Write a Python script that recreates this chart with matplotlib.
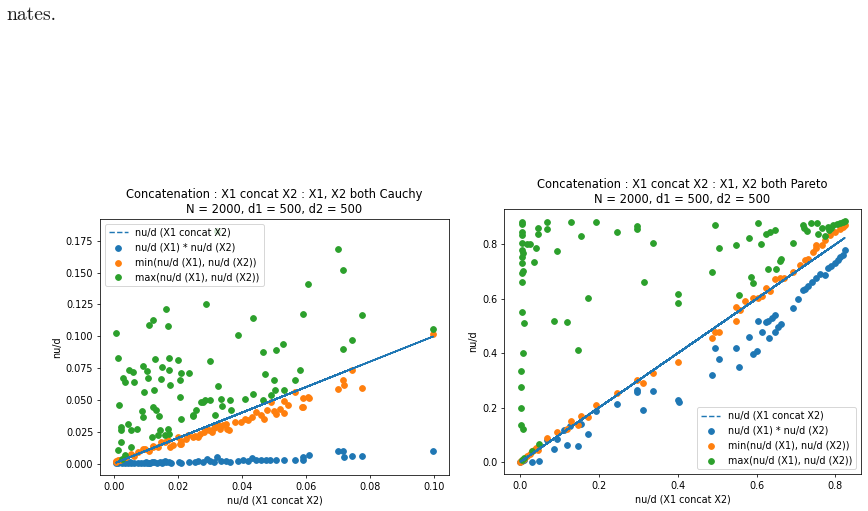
#!/usr/bin/env python3
import numpy as np
import matplotlib
matplotlib.use('Agg')
import matplotlib.pyplot as plt

# keep the back-and-forth concat line intact (no collinear merging)
plt.rcParams['path.simplify'] = False

# ---- Cauchy panel (left) ----
cauchy_max_x = [0.0007, 0.0163, 0.0123, 0.0112, 0.0170, 0.0290, 0.0434, 0.0590, 0.0776, 0.0998,
                0.0389, 0.0746, 0.0013, 0.0130, 0.0172, 0.0202, 0.0301, 0.0467, 0.0506, 0.0530,
                0.0718, 0.0091, 0.0152, 0.0049, 0.0060, 0.0105, 0.0172, 0.0212, 0.0235, 0.0207,
                0.0028, 0.0034, 0.0063, 0.0107, 0.0149, 0.0175, 0.0095, 0.0126, 0.0207, 0.0018,
                0.0326, 0.0583, 0.0472, 0.0501, 0.0565, 0.0272, 0.0284, 0.0301, 0.0336, 0.0364,
                0.0410, 0.0435, 0.0467, 0.0491, 0.0504, 0.0531, 0.0256, 0.0340, 0.0367, 0.0317,
                0.0123, 0.0133, 0.0142, 0.0089, 0.0091, 0.0210, 0.0249, 0.0023, 0.0023, 0.0044,
                0.0055, 0.0074, 0.0023, 0.0144, 0.0170, 0.0121, 0.0139, 0.0160, 0.0172, 0.0013,
                0.0055, 0.0034, 0.0026, 0.0323, 0.0701, 0.0715, 0.0608, 0.0280, 0.0249]
cauchy_max_y = [0.1026, 0.1212, 0.1126, 0.1086, 0.1081, 0.1250, 0.1143, 0.1178, 0.1165, 0.1055,
                0.1008, 0.0974, 0.0832, 0.0822, 0.0832, 0.0812, 0.0806, 0.0877, 0.0890, 0.0942,
                0.0898, 0.0767, 0.0759, 0.0733, 0.0720, 0.0728, 0.0733, 0.0712, 0.0712, 0.0660,
                0.0675, 0.0641, 0.0641, 0.0675, 0.0668, 0.0615, 0.0563, 0.0576, 0.0524, 0.0463,
                0.0607, 0.0733, 0.0702, 0.0654, 0.0654, 0.0484, 0.0503, 0.0503, 0.0505, 0.0497,
                0.0505, 0.0545, 0.0497, 0.0542, 0.0576, 0.0576, 0.0424, 0.0450, 0.0419, 0.0380,
                0.0445, 0.0424, 0.0372, 0.0411, 0.0366, 0.0353, 0.0372, 0.0288, 0.0262, 0.0314,
                0.0262, 0.0275, 0.0170, 0.0262, 0.0275, 0.0209, 0.0223, 0.0223, 0.0236, 0.0105,
                0.0131, 0.0065, 0.0039, 0.1829, 0.1682, 0.1520, 0.1412, 0.0480, 0.0378]

cauchy_min_x = [0.0998, 0.0745, 0.0715, 0.0719, 0.0701, 0.0777, 0.0591, 0.0609, 0.0591, 0.0565,
                0.0531, 0.0531, 0.0502, 0.0507, 0.0491, 0.0470, 0.0460, 0.0433, 0.0409, 0.0397,
                0.0380, 0.0360, 0.0354, 0.0343, 0.0333, 0.0317, 0.0312, 0.0307, 0.0297, 0.0281,
                0.0265, 0.0255, 0.0249, 0.0233, 0.0212, 0.0209, 0.0207, 0.0202, 0.0176, 0.0170,
                0.0160, 0.0149, 0.0123, 0.0123, 0.0097, 0.0091, 0.0076, 0.0055, 0.0034, 0.0013,
                0.0007, 0.0007, 0.0020, 0.0040, 0.0065, 0.0110, 0.0140, 0.0185, 0.0225, 0.0270,
                0.0290, 0.0325, 0.0350, 0.0420, 0.0445, 0.0480, 0.0520, 0.0546, 0.0587, 0.0606]
cauchy_min_y = [0.1016, 0.0732, 0.0654, 0.0614, 0.0588, 0.0593, 0.0517, 0.0517, 0.0443, 0.0562,
                0.0488, 0.0396, 0.0417, 0.0391, 0.0483, 0.0352, 0.0380, 0.0365, 0.0353, 0.0325,
                0.0327, 0.0260, 0.0275, 0.0301, 0.0273, 0.0288, 0.0280, 0.0249, 0.0260, 0.0247,
                0.0209, 0.0220, 0.0209, 0.0223, 0.0181, 0.0155, 0.0157, 0.0209, 0.0128, 0.0183,
                0.0168, 0.0170, 0.0142, 0.0131, 0.0118, 0.0116, 0.0092, 0.0079, 0.0052, 0.0026,
                0.0013, 0.0018, 0.0030, 0.0050, 0.0060, 0.0100, 0.0130, 0.0150, 0.0195, 0.0235,
                0.0270, 0.0300, 0.0310, 0.0340, 0.0405, 0.0420, 0.0430, 0.0460, 0.0445, 0.0524]

cauchy_prod_x = [0.0007, 0.0015, 0.0025, 0.0035, 0.0045, 0.0055, 0.0065, 0.0075, 0.0085, 0.0095,
                 0.0105, 0.0115, 0.0125, 0.0135, 0.0145, 0.0155, 0.0165, 0.0172, 0.0178, 0.0205,
                 0.0212, 0.0235, 0.0255, 0.0265, 0.0280, 0.0291, 0.0300, 0.0315, 0.0323, 0.0335,
                 0.0350, 0.0365, 0.0390, 0.0405, 0.0420, 0.0433, 0.0445, 0.0460, 0.0475, 0.0490,
                 0.0507, 0.0531, 0.0565, 0.0591, 0.0591, 0.0609, 0.0701, 0.0715, 0.0719, 0.0745,
                 0.0777, 0.0998, 0.0110, 0.0150, 0.0160, 0.0120, 0.0050, 0.0030, 0.0100]
cauchy_prod_y = [0.0002, 0.0003, 0.0002, 0.0004, 0.0003, 0.0005, 0.0002, 0.0006, 0.0004, 0.0008,
                 0.0005, 0.0007, 0.0010, 0.0006, 0.0012, 0.0009, 0.0011, 0.0016, 0.0008, 0.0015,
                 0.0008, 0.0010, 0.0012, 0.0018, 0.0014, 0.0037, 0.0020, 0.0016, 0.0050, 0.0018,
                 0.0022, 0.0015, 0.0020, 0.0030, 0.0022, 0.0043, 0.0025, 0.0028, 0.0030, 0.0026,
                 0.0026, 0.0031, 0.0031, 0.0031, 0.0050, 0.0068, 0.0097, 0.0097, 0.0050, 0.0063,
                 0.0063, 0.0102, 0.0003, 0.0004, 0.0020, 0.0015, 0.0010, 0.0012, 0.0012]

# ---- Pareto panel (right) ----
pareto_max_x = [0.0043, 0.0043, 0.0043, 0.0043, 0.0449, 0.0449, 0.0676, 0.0676, 0.1285, 0.1538,
                0.1934, 0.2450, 0.2957, 0.2957, 0.3378, 0.0043, 0.0170, 0.0237, 0.0405, 0.0043,
                0.0068, 0.0930, 0.0043, 0.0338, 0.0043, 0.0068, 0.0043, 0.0043, 0.3142, 0.1731,
                0.4010, 0.4010, 0.0043, 0.0084, 0.0845, 0.1183, 0.0068, 0.1460, 0.0025, 0.0025,
                0.0025, 0.0025, 0.0059, 0.0473, 0.0296, 0.0100, 0.0050,
                0.4857, 0.4942, 0.5050, 0.5474, 0.5558, 0.5800, 0.6040, 0.5870, 0.5910, 0.6125,
                0.6250, 0.6290, 0.6330, 0.6460, 0.6488, 0.6590, 0.6630, 0.6926, 0.7180, 0.7215,
                0.7280, 0.7390, 0.7535, 0.7560, 0.7730, 0.7810, 0.7900, 0.7940, 0.8030, 0.8110,
                0.8190, 0.8240, 0.7850, 0.7660]
pareto_max_y = [0.883, 0.875, 0.846, 0.836, 0.859, 0.840, 0.884, 0.855, 0.881, 0.830,
                0.882, 0.846, 0.867, 0.855, 0.804, 0.806, 0.801, 0.801, 0.788, 0.779,
                0.767, 0.775, 0.755, 0.735, 0.733, 0.703, 0.695, 0.663, 0.663, 0.604,
                0.617, 0.585, 0.553, 0.510, 0.520, 0.514, 0.400, 0.410, 0.336, 0.274,
                0.200, 0.136, 0.123, 0.066, 0.039, 0.015, 0.008,
                0.699, 0.873, 0.788, 0.797, 0.614, 0.822, 0.877, 0.679, 0.657, 0.800,
                0.840, 0.708, 0.846, 0.852, 0.708, 0.740, 0.748, 0.806, 0.873, 0.859,
                0.848, 0.879, 0.879, 0.840, 0.830, 0.865, 0.859, 0.871, 0.875, 0.877,
                0.883, 0.886, 0.853, 0.860]

pareto_min_x = [0.000, 0.005, 0.010, 0.017, 0.0296, 0.040, 0.0456, 0.0676, 0.093, 0.118,
                0.129, 0.146, 0.155, 0.173, 0.1926, 0.245, 0.2957, 0.3125, 0.338, 0.401,
                0.486, 0.494, 0.505, 0.547, 0.549, 0.557, 0.570, 0.591, 0.604, 0.615,
                0.625, 0.633, 0.646, 0.659, 0.669, 0.693, 0.710, 0.722, 0.731, 0.743,
                0.750, 0.752, 0.767, 0.773, 0.786, 0.798, 0.811, 0.819, 0.824, 0.003,
                0.024, 0.035]
pareto_min_y = [0.000, 0.006, 0.012, 0.021, 0.040, 0.052, 0.044, 0.088, 0.109, 0.121,
                0.152, 0.137, 0.170, 0.167, 0.210, 0.253, 0.300, 0.290, 0.327, 0.369,
                0.455, 0.479, 0.479, 0.520, 0.571, 0.560, 0.592, 0.602, 0.604, 0.612,
                0.638, 0.628, 0.672, 0.675, 0.678, 0.699, 0.724, 0.742, 0.748, 0.773,
                0.788, 0.797, 0.797, 0.818, 0.834, 0.846, 0.855, 0.865, 0.870, 0.003,
                0.030, 0.045]

pareto_prod_x = [0.000, 0.004, 0.010, 0.030, 0.047, 0.0845, 0.093, 0.118, 0.146, 0.155,
                 0.173, 0.1926, 0.245, 0.2957, 0.2957, 0.3125, 0.338, 0.401, 0.403, 0.486,
                 0.494, 0.505, 0.547, 0.556, 0.581, 0.590, 0.602, 0.604, 0.615, 0.629,
                 0.631, 0.646, 0.654, 0.663, 0.646, 0.693, 0.718, 0.722, 0.731, 0.752,
                 0.760, 0.773, 0.781, 0.798, 0.807, 0.811, 0.819, 0.824, 0.640, 0.625,
                 0.705, 0.740, 0.790, 0.068, 0.127, 0.110]
pareto_prod_y = [0.000, 0.002, 0.006, 0.000, 0.002, 0.048, 0.084, 0.061, 0.057, 0.141,
                 0.103, 0.189, 0.214, 0.263, 0.257, 0.192, 0.262, 0.229, 0.220, 0.318,
                 0.418, 0.378, 0.418, 0.349, 0.461, 0.397, 0.408, 0.520, 0.477, 0.520,
                 0.457, 0.477, 0.495, 0.506, 0.540, 0.565, 0.632, 0.636, 0.646, 0.675,
                 0.690, 0.687, 0.712, 0.730, 0.742, 0.752, 0.760, 0.779, 0.530, 0.515,
                 0.600, 0.660, 0.720, 0.082, 0.131, 0.118]

LABELS = ['nu/d (X1 concat X2)', 'nu/d (X1) * nu/d (X2)',
          'min(nu/d (X1), nu/d (X2))', 'max(nu/d (X1), nu/d (X2))']


def panel(ax, title, prod, mins, maxs, legend_loc):
    # the concat values come unsorted in the original, so the dashed line
    # doubles back on itself and looks solid; mimic with a low/high zigzag
    xs = np.sort(np.concatenate([prod[0], mins[0], maxs[0]]))
    n = len(xs)
    order = np.empty(n, dtype=int)
    order[0::2] = np.arange((n + 1) // 2)
    order[1::2] = np.arange(n - 1, (n + 1) // 2 - 1, -1)
    concat = xs[order]
    ax.plot(concat, concat, '--', label=LABELS[0])
    ax.scatter(prod[0], prod[1], label=LABELS[1])
    ax.scatter(mins[0], mins[1], label=LABELS[2])
    ax.scatter(maxs[0], maxs[1], label=LABELS[3])
    ax.set_title(title)
    ax.set_xlabel('nu/d (X1 concat X2)')
    ax.set_ylabel('nu/d')
    ax.legend(loc=legend_loc)


# render at 69 dpi so the default matplotlib sizes shrink like the reference
DPI = 69
fig = plt.figure(figsize=(868 / DPI, 511 / DPI), dpi=DPI)
fig.text(6 / 868, 1 - 20 / 511, 'nates.', family='cmr10', fontsize=20.5,
         color='#1a1a1a', va='baseline')

ax1 = fig.add_axes([100 / 868, 36 / 511, 349 / 868, 256 / 511])
panel(ax1, 'Concatenation : X1 concat X2 : X1, X2 both Cauchy\nN = 2000, d1 = 500, d2 = 500',
      (cauchy_prod_x, cauchy_prod_y), (cauchy_min_x, cauchy_min_y),
      (cauchy_max_x, cauchy_max_y), 'upper left')

ax2 = fig.add_axes([504 / 868, 37 / 511, 357 / 868, 265 / 511])
panel(ax2, 'Concatenation : X1 concat X2 : X1, X2 both Pareto\nN = 2000, d1 = 500, d2 = 500',
      (pareto_prod_x, pareto_prod_y), (pareto_min_x, pareto_min_y),
      (pareto_max_x, pareto_max_y), 'lower right')

fig.savefig('out.png', dpi=DPI)
